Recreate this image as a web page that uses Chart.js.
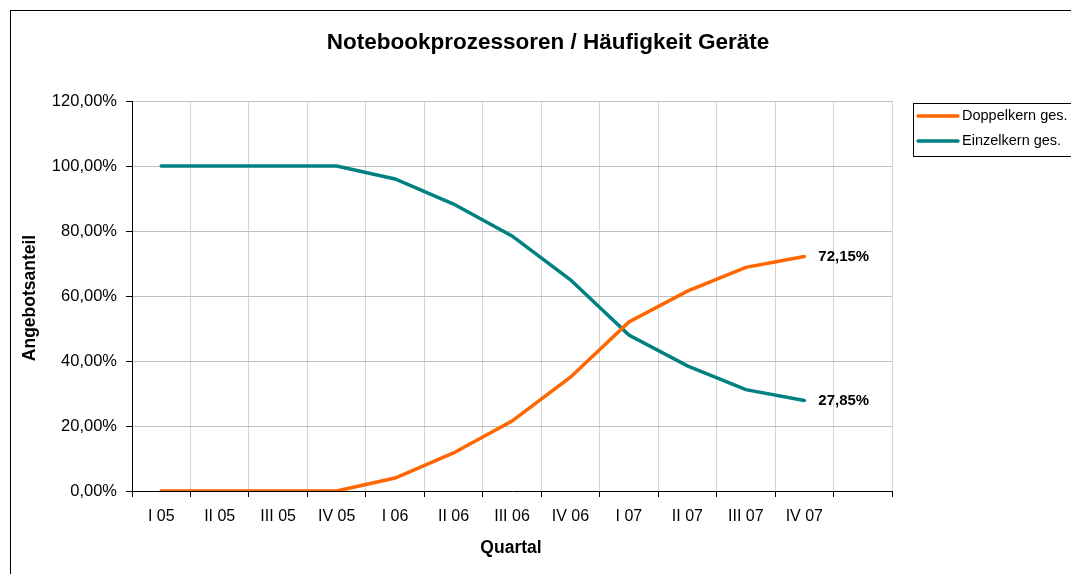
<!DOCTYPE html>
<html>
<head>
<meta charset="utf-8">
<script src="https://cdn.jsdelivr.net/npm/chart.js@4"></script>
<style>
  html, body { margin: 0; padding: 0; background: #fff; }
  #chart { display: block; }
</style>
</head>
<body>
<canvas id="chart" width="1071" height="574"></canvas>
<script>
// data
let quarters = ['I 05', 'II 05', 'III 05', 'IV 05', 'I 06', 'II 06', 'III 06', 'IV 06', 'I 07', 'II 07', 'III 07', 'IV 07', ''];
let doppelkern = [0, 0, 0, 0, 4, 11.7, 21.5, 35, 52, 61.5, 68.8, 72.15];
let einzelkern = [100, 100, 100, 100, 96, 88.3, 78.5, 65, 48, 38.5, 31.2, 27.85];
let yTicks = [0, 20, 40, 60, 80, 100, 120];

let FONT = "'Liberation Sans', Arial, sans-serif";

function pct(v) {
  return v.toFixed(2).replace('.', ',') + '%';
}

// frame, title, axis titles, legend, end labels
let extras = {
  id: 'extras',
  afterDraw(chart) {
    let ctx = chart.ctx;
    ctx.save();

    ctx.strokeStyle = '#000';
    ctx.lineWidth = 1;
    ctx.strokeRect(10.5, 10.5, 1100, 600);

    ctx.fillStyle = '#000';
    ctx.textAlign = 'center';
    ctx.textBaseline = 'middle';
    ctx.font = 'bold 22.5px ' + FONT;
    ctx.fillText('Notebookprozessoren / Häufigkeit Geräte', 548, 43);

    ctx.font = 'bold 17.5px ' + FONT;
    ctx.fillText('Quartal', 511, 548);
    ctx.save();
    ctx.translate(30, 298);
    ctx.rotate(-Math.PI / 2);
    ctx.fillText('Angebotsanteil', 0, 0);
    ctx.restore();

    // legend
    ctx.strokeRect(913.5, 103.5, 170, 53);
    let items = [['Doppelkern ges.', '#ff6600', 116], ['Einzelkern ges.', '#008080', 141]];
    ctx.font = '14.5px ' + FONT;
    ctx.textAlign = 'left';
    items.forEach(it => {
      ctx.strokeStyle = it[1];
      ctx.lineWidth = 3.5;
      ctx.lineCap = 'round';
      ctx.beginPath();
      ctx.moveTo(918, it[2]);
      ctx.lineTo(958, it[2]);
      ctx.stroke();
      ctx.fillStyle = '#000';
      ctx.fillText(it[0], 962, it[2]);
    });

    // labels at last points
    ctx.font = 'bold 15px ' + FONT;
    chart.data.datasets.forEach((ds, i) => {
      let pts = chart.getDatasetMeta(i).data;
      let last = pts[ds.data.length - 1];
      ctx.fillText(pct(ds.data[ds.data.length - 1]), last.x + 14, last.y);
    });

    ctx.restore();
  }
};

new Chart(document.getElementById('chart'), {
  type: 'line',
  data: {
    labels: quarters,
    datasets: [{
      label: 'Doppelkern ges.',
      data: doppelkern,
      borderColor: '#ff6600',
      borderWidth: 3.5,
      pointRadius: 0,
      tension: 0,
      borderCapStyle: 'round'
    }, {
      label: 'Einzelkern ges.',
      data: einzelkern,
      borderColor: '#008080',
      borderWidth: 3.5,
      pointRadius: 0,
      tension: 0,
      borderCapStyle: 'round'
    }]
  },
  options: {
    responsive: false,
    animation: false,
    layout: { padding: { left: 10, right: 179, top: 101, bottom: 0 } },
    plugins: {
      legend: { display: false },
      title: { display: false },
      tooltip: { enabled: false }
    },
    scales: {
      x: {
        offset: true,
        grid: { offset: true, color: '#d4d4d4', tickLength: 6, tickColor: '#000' },
        border: { color: '#000' },
        ticks: { color: '#000', font: { family: FONT, size: 16 }, padding: 10, maxRotation: 0, autoSkip: false },
        afterFit(s) { s.height = 83; }
      },
      y: {
        min: 0,
        max: 120,
        afterBuildTicks(s) { s.ticks = yTicks.map(v => ({ value: v })); },
        grid: { color: '#c0c0c0', tickLength: 6, tickColor: '#000' },
        border: { color: '#000' },
        ticks: { color: '#000', font: { family: FONT, size: 16.5 }, padding: 9, callback: v => pct(v) },
        afterFit(s) { s.width = 122; }
      }
    }
  },
  plugins: [extras]
});
</script>
</body>
</html>
